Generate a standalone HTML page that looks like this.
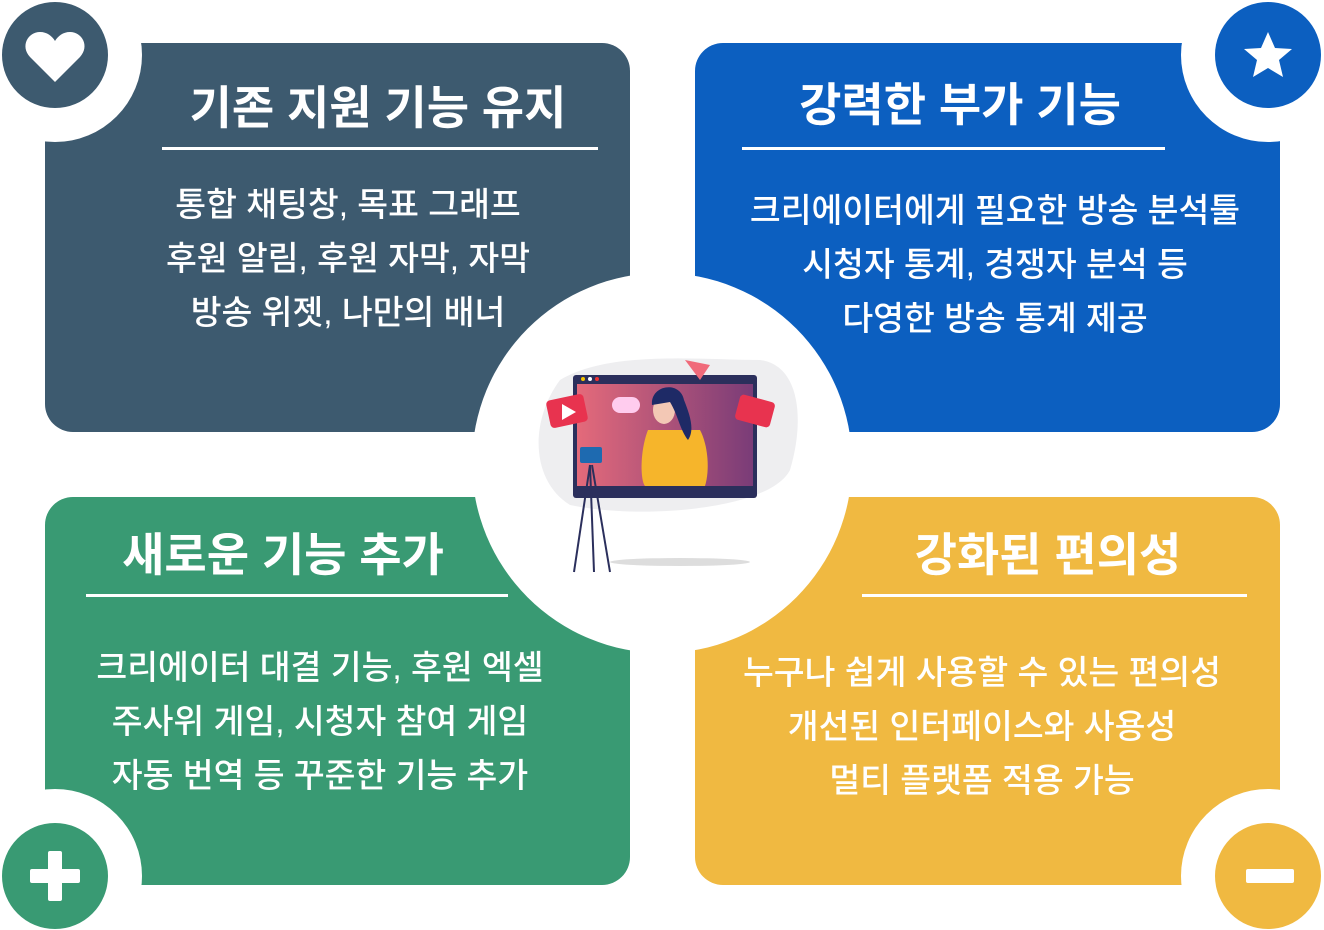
<!DOCTYPE html>
<html><head><meta charset="utf-8"><style>
html,body{margin:0;padding:0;background:#fff;width:1324px;height:930px;overflow:hidden}
svg text{font-family:"Liberation Sans","Noto Sans CJK KR",sans-serif;fill:#fff;text-anchor:middle}
.t{font-size:46px;font-weight:bold}
.b{font-size:33.5px;font-weight:500}
</style></head><body>
<svg width="1324" height="930" viewBox="0 0 1324 930" xmlns="http://www.w3.org/2000/svg">
<rect x="45" y="43" width="585" height="389" rx="28" fill="#3d5a6f"/>
<rect x="695" y="43" width="585" height="389" rx="28" fill="#0c5fc0"/>
<rect x="45" y="497" width="585" height="388" rx="28" fill="#399a73"/>
<rect x="695" y="497" width="585" height="388" rx="28" fill="#f0b941"/>
<circle cx="662" cy="463" r="190" fill="#fff"/>
<circle cx="55" cy="55" r="87" fill="#fff"/>
<circle cx="1268" cy="55" r="87" fill="#fff"/>
<circle cx="55" cy="876" r="87" fill="#fff"/>
<circle cx="1268" cy="876" r="87" fill="#fff"/>
<circle cx="55" cy="55" r="53" fill="#3d5a6f"/>
<circle cx="1268" cy="55" r="53" fill="#0c5fc0"/>
<circle cx="55" cy="876" r="53" fill="#399a73"/>
<circle cx="1268" cy="876" r="53" fill="#f0b941"/>
<path d="M55 82 L30 57 C20 46 28 32 40 32 C47 32 52 36 55 41 C58 36 63 32 70 32 C82 32 90 46 80 57 Z" fill="#fff"/>
<polygon points="1268,32 1275,48 1292,49 1279,60 1283,77 1268,68 1253,77 1257,60 1244,49 1261,48" fill="#fff"/>
<rect x="30" y="869" width="50" height="14" rx="2" fill="#fff"/><rect x="48" y="851" width="14" height="50" rx="2" fill="#fff"/>
<rect x="1246" y="869" width="48" height="14" rx="2" fill="#fff"/>
<!-- illustration -->
<path d="M560 380 C610 350 700 360 760 360 C800 365 805 420 790 470 C770 510 640 520 570 505 C530 480 530 420 560 380Z" fill="#eeeef0"/>
<ellipse cx="680" cy="562" rx="70" ry="4" fill="#ddd"/>
<rect x="573" y="375" width="184" height="123" rx="3" fill="#2b2f5c"/>
<defs><linearGradient id="g" x1="0" x2="1"><stop offset="0" stop-color="#e46a7a"/><stop offset="1" stop-color="#7a3c78"/></linearGradient></defs>
<rect x="577" y="384" width="176" height="102" fill="url(#g)"/>
<circle cx="583" cy="379" r="2" fill="#f5c400"/><circle cx="590" cy="379" r="2" fill="#fff"/><circle cx="597" cy="379" r="2" fill="#e33"/>
<path d="M648 430 C640 450 640 480 645 486 L705 486 C710 470 708 445 700 430 Z" fill="#f6b52b"/>
<ellipse cx="664" cy="410" rx="11" ry="14" fill="#f3c8b5"/>
<path d="M652 405 C650 385 680 380 684 400 C690 415 695 430 688 440 C680 430 678 415 670 402 Z" fill="#1e2a66"/>
<rect x="548" y="397" width="38" height="28" rx="4" fill="#e8334f" transform="rotate(-12 567 411)"/>
<polygon points="562,404 562,420 576,412" fill="#fff"/>
<rect x="737" y="398" width="36" height="26" rx="4" fill="#e8334f" transform="rotate(15 755 411)"/>
<rect x="612" y="397" width="28" height="16" rx="8" fill="#fce"/>
<polygon points="685,360 710,365 700,380" fill="#f06a7a"/>
<rect x="580" y="447" width="22" height="16" rx="2" fill="#1e6ab0"/>
<line x1="590" y1="465" x2="574" y2="572" stroke="#2b2f5c" stroke-width="2"/>
<line x1="590" y1="465" x2="594" y2="572" stroke="#2b2f5c" stroke-width="2"/>
<line x1="592" y1="465" x2="610" y2="572" stroke="#2b2f5c" stroke-width="2"/>
<!-- texts -->
<text class="t" x="378" y="124">기존 지원 기능 유지</text>
<rect x="162" y="147" width="436" height="3" fill="#fff"/>
<text class="b" x="348" y="216">통합 채팅창, 목표 그래프</text>
<text class="b" x="348" y="270">후원 알림, 후원 자막, 자막</text>
<text class="b" x="348" y="324">방송 위젯, 나만의 배너</text>
<text class="t" x="960" y="121">강력한 부가 기능</text>
<rect x="742" y="147" width="423" height="3" fill="#fff"/>
<text class="b" x="995" y="222">크리에이터에게 필요한 방송 분석툴</text>
<text class="b" x="995" y="276">시청자 통계, 경쟁자 분석 등</text>
<text class="b" x="995" y="330">다영한 방송 통계 제공</text>
<text class="t" x="283" y="571">새로운 기능 추가</text>
<rect x="86" y="594" width="422" height="3" fill="#fff"/>
<text class="b" x="320" y="679">크리에이터 대결 기능, 후원 엑셀</text>
<text class="b" x="320" y="733">주사위 게임, 시청자 참여 게임</text>
<text class="b" x="320" y="787">자동 번역 등 꾸준한 기능 추가</text>
<text class="t" x="1048" y="571">강화된 편의성</text>
<rect x="862" y="594" width="385" height="3" fill="#fff"/>
<text class="b" x="982" y="684">누구나 쉽게 사용할 수 있는 편의성</text>
<text class="b" x="982" y="738">개선된 인터페이스와 사용성</text>
<text class="b" x="982" y="792">멀티 플랫폼 적용 가능</text>
</svg>
</body></html>
